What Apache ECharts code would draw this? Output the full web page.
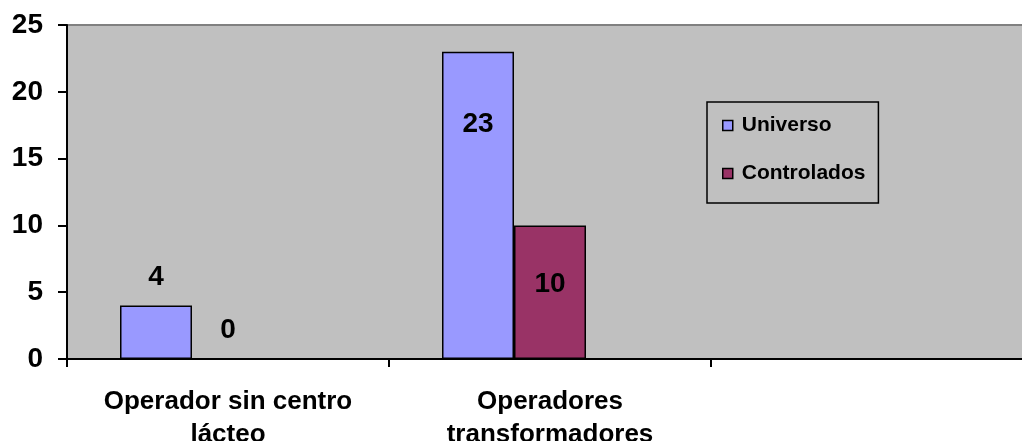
<!DOCTYPE html>
<html>
<head>
<meta charset="utf-8">
<script src="https://cdn.jsdelivr.net/npm/echarts@6/dist/echarts.min.js"></script>
<style>
  html, body { margin: 0; padding: 0; background: #fff; }
  #chart { width: 1022px; height: 441px; }
</style>
</head>
<body>
<div id="chart"></div>
<script>
// categories (the third slot is empty in the original sheet)
const categories = ['Operador sin centro\nlácteo', 'Operadores\ntransformadores', ''];
const universo = [4, 23, '-'];
const controlados = [0, 10, '-'];
// an empty third series that only reserves space in each group
const spacer = ['-', '-', '-'];

const FONT = '"Liberation Sans", Arial, sans-serif';

// label placement: small bars get the label above, tall ones inside
function labelFor(value, insideOffset) {
    if (insideOffset == null) {
        return { position: 'top', distance: 14 };
    }
    return { position: ['50%', insideOffset], align: 'center', verticalAlign: 'middle' };
}

function buildData(values, offsets) {
    return values.map(function (v, i) {
        if (v === '-') return '-';
        return { value: v, label: labelFor(v, offsets[i]) };
    });
}

const chart = echarts.init(document.getElementById('chart'), null, { renderer: 'canvas' });

const barLabel = {
    show: true,
    color: '#000',
    fontFamily: FONT,
    fontWeight: 'bold',
    fontSize: 28
};

chart.setOption({
    animation: false,
    backgroundColor: '#fff',
    textStyle: { fontFamily: FONT },
    grid: {
        show: true,
        left: 67,
        top: 25,
        width: 966,
        bottom: 82,
        outerBoundsMode: 'none',
        containLabel: false,
        backgroundColor: '#c0c0c0',
        borderColor: '#808080',
        borderWidth: 2
    },
    legend: {
        data: ['Universo', 'Controlados'],
        orient: 'vertical',
        left: 707,
        top: 102,
        padding: [13, 13, 19, 15],
        itemGap: 27,
        itemWidth: 10,
        itemHeight: 10,
        icon: 'rect',
        backgroundColor: '#c0c0c0',
        borderColor: '#000',
        borderWidth: 1.5,
        borderRadius: 0,
        itemStyle: { borderColor: '#000', borderWidth: 1.5 },
        textStyle: {
            color: '#000',
            fontFamily: FONT,
            fontWeight: 'bold',
            fontSize: 21,
            padding: [0, 0, 0, 4]
        }
    },
    xAxis: {
        type: 'category',
        data: categories,
        axisLine: { lineStyle: { color: '#000', width: 2 } },
        axisTick: { show: true, length: 8, lineStyle: { color: '#000', width: 2 } },
        axisLabel: {
            color: '#000',
            fontFamily: FONT,
            fontWeight: 'bold',
            fontSize: 26,
            lineHeight: 33,
            margin: 26,
            interval: 0
        },
        splitLine: { show: false }
    },
    yAxis: {
        type: 'value',
        min: 0,
        max: 25,
        interval: 5,
        axisLine: { show: true, lineStyle: { color: '#000', width: 2 } },
        axisTick: { show: true, length: 9, lineStyle: { color: '#000', width: 2 } },
        axisLabel: {
            color: '#000',
            fontFamily: FONT,
            fontWeight: 'bold',
            fontSize: 28,
            margin: 24
        },
        splitLine: { show: false }
    },
    series: [
        {
            name: 'Universo',
            type: 'bar',
            barWidth: 72,
            barGap: '0%',
            data: buildData(universo, [null, 73, null]),
            itemStyle: { color: '#9999ff', borderColor: '#000', borderWidth: 1.5 },
            label: barLabel
        },
        {
            name: 'Controlados',
            type: 'bar',
            barWidth: 72,
            barGap: '0%',
            data: buildData(controlados, [null, 59, null]),
            itemStyle: { color: '#993366', borderColor: '#000', borderWidth: 1.5 },
            label: barLabel
        },
        {
            name: 'spacer',
            type: 'bar',
            barWidth: 72,
            barGap: '0%',
            data: spacer,
            itemStyle: { color: 'transparent' },
            silent: true
        }
    ]
});
</script>
</body>
</html>
